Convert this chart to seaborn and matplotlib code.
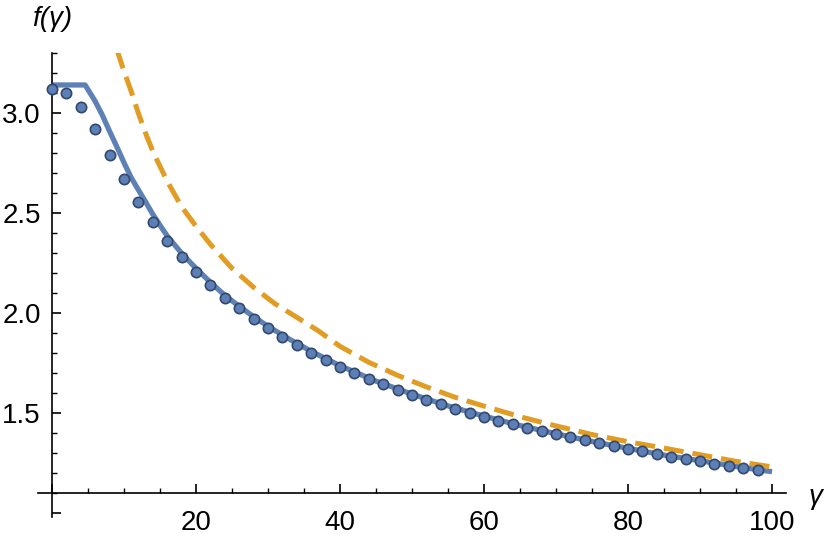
import numpy as np
import pandas as pd
import seaborn as sns
import matplotlib.pyplot as plt
from matplotlib.ticker import MultipleLocator, FuncFormatter

# numerical points (dots), gamma = 0, 2, ..., 98
gamma_pts = list(range(0, 100, 2))
f_pts = [3.12, 3.10, 3.033, 2.92, 2.79, 2.67, 2.555, 2.455, 2.36, 2.28,
         2.207, 2.14, 2.078, 2.025, 1.973, 1.927, 1.883, 1.84, 1.803, 1.768,
         1.733, 1.70, 1.673, 1.645, 1.617, 1.593, 1.568, 1.547, 1.523, 1.503,
         1.483, 1.463, 1.447, 1.428, 1.412, 1.396, 1.38, 1.365, 1.35, 1.337,
         1.323, 1.31, 1.295, 1.283, 1.272, 1.262, 1.248, 1.237, 1.227, 1.217]

# solid curve
gamma_line = [0, 4.6, 6, 7, 8, 9, 10, 11, 12, 13, 14, 15, 16, 18, 20, 22, 24, 26, 28,
              30, 33, 36, 40, 45, 50, 55, 60, 65, 70, 75, 80, 85, 90, 95, 100]
f_line = [3.1416, 3.1416, 3.06, 2.99, 2.91, 2.833, 2.753, 2.678, 2.617, 2.557,
          2.495, 2.44, 2.387, 2.30, 2.225, 2.155, 2.09, 2.035, 1.983,
          1.935, 1.87, 1.81, 1.738, 1.661, 1.596, 1.537, 1.486, 1.439, 1.398,
          1.359, 1.325, 1.291, 1.263, 1.234, 1.208]

# dashed asymptotic curve
gamma_asym = [9, 10, 11, 12, 13, 14, 16, 18, 20, 22, 25, 28, 31, 34, 37, 40, 44,
              48, 52, 56, 60, 65, 70, 75, 80, 85, 90, 95, 100]
f_asym = [3.32, 3.21, 3.11, 3.00, 2.90, 2.81, 2.66, 2.533, 2.435, 2.345, 2.225,
          2.13, 2.047, 1.98, 1.912, 1.835, 1.755, 1.69, 1.632, 1.58, 1.536,
          1.483, 1.437, 1.394, 1.358, 1.326, 1.293, 1.26, 1.232]

blue = '#5e81b5'
orange = '#e19c24'

sns.set_style('ticks')
plt.rcParams['font.family'] = ['Liberation Sans', 'DejaVu Sans']

fig = plt.figure(figsize=(8.3, 5.4), dpi=100, facecolor='white')
ax = fig.add_axes([0.0453, 0.042, 0.9022, 0.8593])

sns.lineplot(x=gamma_line, y=f_line, ax=ax, color=blue, lw=3.8,
             solid_joinstyle='round', solid_capstyle='butt', zorder=2)
sns.lineplot(x=gamma_asym, y=f_asym, ax=ax, color=orange, lw=3.6,
             linestyle=(0, (4.0, 1.8)), dash_capstyle='butt', zorder=2)
sns.scatterplot(x=gamma_pts, y=f_pts, ax=ax, s=55, color='#5b7fb6',
                edgecolor='#34486a', linewidth=1.2, zorder=3)

ax.set_xlim(-2, 102)
ax.set_ylim(0.98, 3.30)

# axes crossing like the original
ax.spines['left'].set_position(('data', 0))
ax.spines['bottom'].set_position(('data', 1.1))
ax.spines['top'].set_visible(False)
ax.spines['right'].set_visible(False)
for sp in ('left', 'bottom'):
    ax.spines[sp].set_linewidth(1.2)
    ax.spines[sp].set_color('black')

ax.xaxis.set_major_locator(MultipleLocator(20))
ax.xaxis.set_minor_locator(MultipleLocator(5))
ax.yaxis.set_major_locator(MultipleLocator(0.5))
ax.yaxis.set_minor_locator(MultipleLocator(0.1))
ax.xaxis.set_major_formatter(FuncFormatter(lambda v, p: '' if abs(v) < 1e-9 else f'{v:.0f}'))
ax.yaxis.set_major_formatter(FuncFormatter(lambda v, p: '' if v < 1.25 else f'{v:.1f}'))

ax.tick_params(which='major', direction='in', length=6.2, width=1.2, labelsize=20,
               color='black', labelcolor='black')
ax.tick_params(which='minor', direction='in', length=3.8, width=1.0, color='black')
ax.tick_params(axis='x', which='major', pad=12)
ax.tick_params(axis='y', which='major', pad=8)

ax.set_xlabel('')
ax.set_ylabel('')
ax.text(0, 3.47, 'f(γ)', ha='center', va='center', fontsize=20, fontstyle='italic',
        color='black', clip_on=False)
ax.text(106, 1.08, 'γ', ha='center', va='center', fontsize=20, fontstyle='italic',
        color='black', clip_on=False)

ax.set_facecolor('white')
fig.savefig('out.png', dpi=100, facecolor='white')
